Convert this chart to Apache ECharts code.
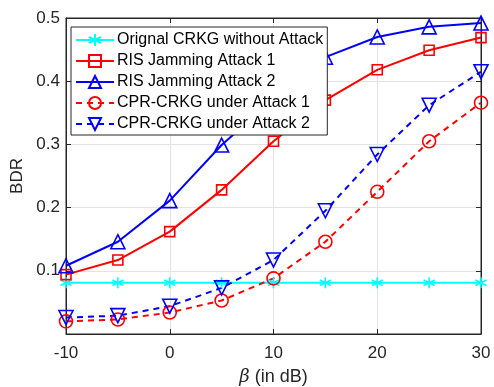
<!DOCTYPE html>
<html><head><meta charset="utf-8">
<script src="https://cdn.jsdelivr.net/npm/echarts@6/dist/echarts.min.js"></script>
<style>html,body{margin:0;padding:0;background:#fff}#c{width:494px;height:387px}</style>
</head><body><div id="c"></div>
<script>
const beta = [-10, -5, 0, 5, 10, 15, 20, 25, 30];
const orignal = [0.081, 0.081, 0.081, 0.081, 0.081, 0.081, 0.081, 0.081, 0.081];
const risAttack1 = [0.094, 0.117, 0.162, 0.228, 0.305, 0.370, 0.418, 0.449, 0.469];
const risAttack2 = [0.108, 0.146, 0.211, 0.299, 0.372, 0.438, 0.470, 0.486, 0.492];
const cprAttack1 = [0.020, 0.023, 0.034, 0.053, 0.088, 0.146, 0.225, 0.305, 0.366];
const cprAttack2 = [0.026, 0.029, 0.044, 0.073, 0.117, 0.195, 0.284, 0.362, 0.415];
const names = ['Orignal CRKG without Attack','RIS Jamming Attack 1','RIS Jamming Attack 2','CPR-CRKG under Attack 1','CPR-CRKG under Attack 2'];
const xTicks = [-10, 0, 10, 20, 30];
const yTicks = [0.1, 0.2, 0.3, 0.4, 0.5];

const star = 'path://M0,-5L0,5M-4.33,-2.5L4.33,2.5M-4.33,2.5L4.33,-2.5';
function pairs(ys){ return beta.map((x,i)=>[x, ys[i]]); }
function mk(name, ys, color, symbol, size, dashed, rot){
  return {
    name, type:'line', data: pairs(ys), symbol, symbolSize: size, symbolRotate: rot||0,
    lineStyle:{color, width:2, type: dashed ? [6,5] : 'solid'},
    itemStyle:{color:'rgba(255,255,255,0)', borderColor: color, borderWidth:1.6},
    emphasis:{disabled:true}, z: 3
  };
}
const chart = echarts.init(document.getElementById('c'));
const font = 'Liberation Sans, Arial, sans-serif';
const axLine = {show:true, onZero:false, lineStyle:{color:'#262626'}};
const tick = {inside:true, length:5, lineStyle:{color:'#262626'}};
chart.setOption({
  animation:false,
  backgroundColor:'#fff',
  grid:{left:66, right:13, top:18, bottom:53, containLabel:false, outerBoundsMode:'none', show:true, borderColor:'#262626', borderWidth:1},
  legend:{
    orient:'vertical', left:71, top:27, data: names,
    backgroundColor:'#fff', borderColor:'#262626', borderWidth:1,
    padding:[5,4,3,4], itemGap:5, itemWidth:38, itemHeight:15,
    textStyle:{fontFamily:font, fontSize:16, color:'#000', padding:[0,0,0,-2]}
  },
  xAxis:[{
    type:'value', min:-10, max:30, interval:10,
    name:'{i|β} (in dB)', nameLocation:'middle', nameGap:34,
    nameTextStyle:{fontFamily:font, fontSize:18, color:'#262626', rich:{i:{fontStyle:'italic', fontFamily:'DejaVu Serif', fontSize:18, color:'#262626'}}},
    axisLine:axLine, axisTick:tick,
    axisLabel:{fontFamily:font, fontSize:17, color:'#262626', margin:11, formatter: v => xTicks.includes(v) ? String(v) : ''},
    splitLine:{show:true, lineStyle:{color:'#e3e3e3'}}
  },{
    type:'value', position:'top', min:-10, max:30, interval:10,
    axisLine:axLine, axisTick:tick,
    axisLabel:{show:false}, splitLine:{show:false}
  }],
  yAxis:[{
    type:'value', min:0, max:0.5, interval:0.1,
    name:'BDR', nameLocation:'middle', nameGap:40,
    nameTextStyle:{fontFamily:font, fontSize:17, color:'#262626'},
    axisLine:axLine, axisTick:tick,
    axisLabel:{fontFamily:font, fontSize:17, color:'#262626', margin:6,
      formatter: v => { const t = yTicks.find(k => Math.abs(k - v) < 1e-9); return t === undefined ? '' : t.toFixed(1); }},
    splitLine:{show:true, lineStyle:{color:'#e3e3e3'}}
  },{
    type:'value', position:'right', min:0, max:0.5, interval:0.1,
    axisLine:axLine, axisTick:tick,
    axisLabel:{show:false}, splitLine:{show:false}
  }],
  series:[
    mk(names[0], orignal, '#00ffff', star, 11, false),
    mk(names[1], risAttack1, '#ff0000', 'rect', 10, false),
    mk(names[2], risAttack2, '#0000ff', 'triangle', 14, false),
    mk(names[3], cprAttack1, '#ff0000', 'circle', 13, true),
    mk(names[4], cprAttack2, '#0000ff', 'triangle', 14, true, 180)
  ]
});
</script></body></html>
